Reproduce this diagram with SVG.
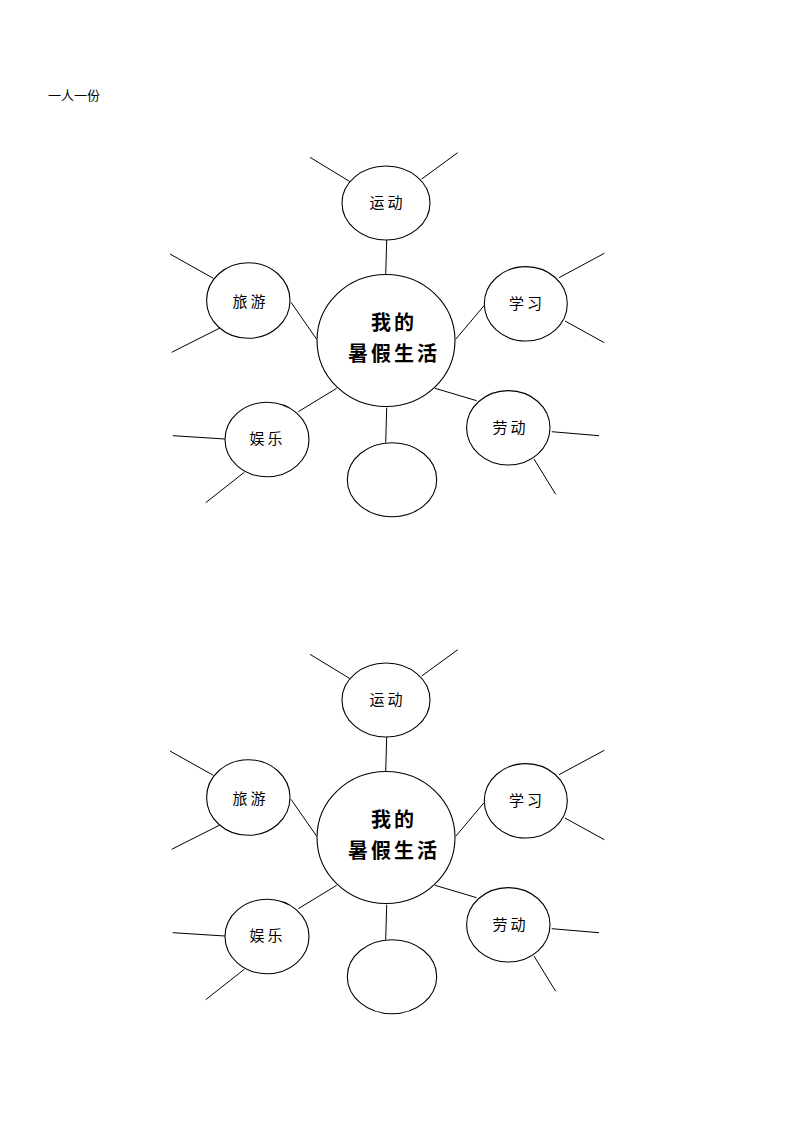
<svg xmlns="http://www.w3.org/2000/svg" width="794" height="1123" viewBox="0 0 794 1123">
<style>
.e{fill:#fff;stroke:#000;stroke-width:1.1}
.l{stroke:#000;stroke-width:1;fill:none}
.t{font-family:"Liberation Serif","Noto Sans CJK SC",serif;font-size:15px;letter-spacing:3px;text-anchor:middle;dominant-baseline:central;fill:#000}
.m{font-family:"Liberation Serif","Noto Sans CJK SC",serif;font-size:20px;font-weight:bold;letter-spacing:3px;text-anchor:middle;dominant-baseline:central;fill:#000}
.h{font-family:"Liberation Serif","Noto Sans CJK SC",serif;font-size:13px;fill:#000}
</style>
<rect width="794" height="1123" fill="#fff"/>
<text class="h" x="48" y="100">一人一份</text>

<g id="map1">
<g id="connectors1">
<line class="l" x1="310" y1="157.3" x2="350" y2="181.7"/>
<line class="l" x1="457.7" y1="152.7" x2="421.7" y2="179"/>
<line class="l" x1="386.7" y1="240" x2="385.7" y2="274.3"/>
<line class="l" x1="170" y1="254" x2="213.3" y2="278.3"/>
<line class="l" x1="171.7" y1="352.3" x2="219.3" y2="328.3"/>
<line class="l" x1="291" y1="302.3" x2="316.7" y2="339.3"/>
<line class="l" x1="559" y1="277.7" x2="604.3" y2="253.3"/>
<line class="l" x1="565" y1="321" x2="604.3" y2="342.7"/>
<line class="l" x1="484" y1="305.7" x2="455.7" y2="339.3"/>
<line class="l" x1="551.7" y1="431.7" x2="599" y2="435.7"/>
<line class="l" x1="534" y1="459" x2="555.7" y2="494.3"/>
<line class="l" x1="435" y1="388.3" x2="476.7" y2="400.7"/>
<line class="l" x1="172.7" y1="435.7" x2="225" y2="439"/>
<line class="l" x1="205.7" y1="502.7" x2="244.3" y2="472.3"/>
<line class="l" x1="298.3" y1="411.7" x2="336.7" y2="388.3"/>
<line class="l" x1="386.7" y1="407.7" x2="385.7" y2="442.7"/>
</g>
<g id="center1"><ellipse class="e" cx="386" cy="340.5" rx="69" ry="66"/>
<text class="m" x="394" y="323">我的</text>
<text class="m" x="394" y="353.5">暑假生活</text></g>
<g id="sport1"><ellipse class="e" cx="386" cy="203" rx="44" ry="37"/><text class="t" x="387.5" y="203">运动</text></g>
<g id="travel1"><ellipse class="e" cx="248.3" cy="300.5" rx="41.7" ry="37.8"/><text class="t" x="250.5" y="301.5">旅游</text></g>
<g id="study1"><ellipse class="e" cx="525.8" cy="303.8" rx="41.5" ry="37.2"/><text class="t" x="527" y="304">学习</text></g>
<g id="labor1"><ellipse class="e" cx="508.3" cy="427.8" rx="41.7" ry="37.2"/><text class="t" x="510.5" y="427.5">劳动</text></g>
<g id="fun1"><ellipse class="e" cx="267" cy="439.5" rx="42" ry="37.2"/><text class="t" x="267.5" y="439">娱乐</text></g>
<g id="blank1"><ellipse class="e" cx="392" cy="479.7" rx="44.7" ry="37"/></g>
</g>

<g id="map2">
<g id="connectors2">
<line class="l" x1="310" y1="654.3" x2="350" y2="678.7"/>
<line class="l" x1="457.7" y1="649.7" x2="421.7" y2="676"/>
<line class="l" x1="386.7" y1="737" x2="385.7" y2="771.3"/>
<line class="l" x1="170" y1="751" x2="213.3" y2="775.3"/>
<line class="l" x1="171.7" y1="849.3" x2="219.3" y2="825.3"/>
<line class="l" x1="291" y1="799.3" x2="316.7" y2="836.3"/>
<line class="l" x1="559" y1="774.7" x2="604.3" y2="750.3"/>
<line class="l" x1="565" y1="818" x2="604.3" y2="839.7"/>
<line class="l" x1="484" y1="802.7" x2="455.7" y2="836.3"/>
<line class="l" x1="551.7" y1="928.7" x2="599" y2="932.7"/>
<line class="l" x1="534" y1="956" x2="555.7" y2="991.3"/>
<line class="l" x1="435" y1="885.3" x2="476.7" y2="897.7"/>
<line class="l" x1="172.7" y1="932.7" x2="225" y2="936"/>
<line class="l" x1="205.7" y1="999.7" x2="244.3" y2="969.3"/>
<line class="l" x1="298.3" y1="908.7" x2="336.7" y2="885.3"/>
<line class="l" x1="386.7" y1="904.7" x2="385.7" y2="939.7"/>
</g>
<g id="center2"><ellipse class="e" cx="386" cy="837.5" rx="69" ry="66"/>
<text class="m" x="394" y="820">我的</text>
<text class="m" x="394" y="850.5">暑假生活</text></g>
<g id="sport2"><ellipse class="e" cx="386" cy="700" rx="44" ry="37"/><text class="t" x="387.5" y="700">运动</text></g>
<g id="travel2"><ellipse class="e" cx="248.3" cy="797.5" rx="41.7" ry="37.8"/><text class="t" x="250.5" y="798.5">旅游</text></g>
<g id="study2"><ellipse class="e" cx="525.8" cy="800.8" rx="41.5" ry="37.2"/><text class="t" x="527" y="801">学习</text></g>
<g id="labor2"><ellipse class="e" cx="508.3" cy="924.8" rx="41.7" ry="37.2"/><text class="t" x="510.5" y="924.5">劳动</text></g>
<g id="fun2"><ellipse class="e" cx="267" cy="936.5" rx="42" ry="37.2"/><text class="t" x="267.5" y="936">娱乐</text></g>
<g id="blank2"><ellipse class="e" cx="392" cy="976.7" rx="44.7" ry="37"/></g>
</g>
</svg>
